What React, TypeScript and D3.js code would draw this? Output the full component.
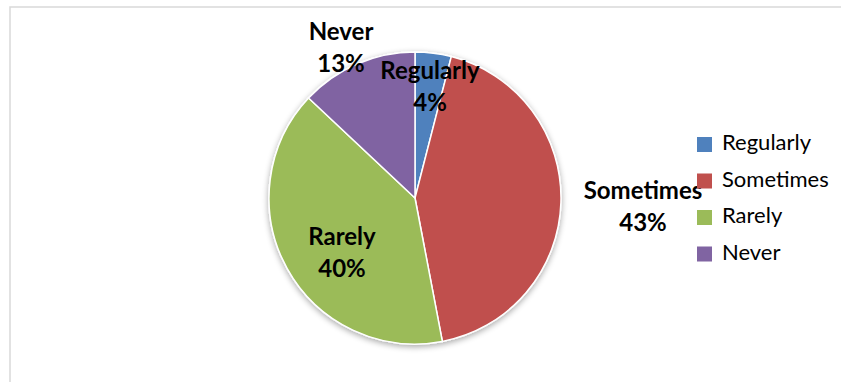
import React from "react";
import * as d3 from "d3";

const categories = ["Regularly", "Sometimes", "Rarely", "Never"];
const values = [4, 43, 40, 13];
const colors = ["#4F81BD", "#C0504D", "#9BBB59", "#8064A2"];
const labelPos: [number, number][] = [
  [430, 79],
  [643, 199],
  [342, 245],
  [341, 40],
];

const W = 841;
const H = 382;
const cx = 415;
const cy = 198;
const R = 146;
const FONT = "Lato, 'Open Sans', sans-serif";

export default function App() {
  const pie = d3.pie<number>().sort(null).value((d) => d)(values);
  const arc = d3.arc<d3.PieArcDatum<number>>().innerRadius(0).outerRadius(R);
  const total = d3.sum(values);
  return (
    <svg
      width={W}
      height={H}
      style={{ position: "absolute", left: 0, top: 0, background: "#fff" }}
    >
      <defs>
        <filter id="sh" x="-20%" y="-20%" width="140%" height="140%">
          <feGaussianBlur in="SourceAlpha" stdDeviation="3" />
          <feOffset dx="0" dy="2" result="b" />
          <feComponentTransfer>
            <feFuncA type="linear" slope="0.35" />
          </feComponentTransfer>
          <feMerge>
            <feMergeNode />
            <feMergeNode in="SourceGraphic" />
          </feMerge>
        </filter>
      </defs>
      <rect x={10} y={7} width={W} height={H} fill="#fff" stroke="#d9d9d9" strokeWidth={1.5} />
      <g transform={`translate(${cx},${cy})`} filter="url(#sh)">
        {pie.map((p, i) => (
          <path key={i} d={arc(p) || ""} fill={colors[i]} stroke="#fff" strokeWidth={1.5} />
        ))}
      </g>
      {categories.map((c, i) => (
        <text
          key={c}
          x={labelPos[i][0]}
          y={labelPos[i][1]}
          textAnchor="middle"
          fontFamily={FONT}
          fontWeight="bold"
          fontSize={24}
          fill="#000"
        >
          <tspan x={labelPos[i][0]}>{c}</tspan>
          <tspan x={labelPos[i][0]} dy={32}>
            {Math.round((values[i] / total) * 100)}%
          </tspan>
        </text>
      ))}
      {categories.map((c, i) => (
        <g key={c} transform={`translate(697,${137 + i * 36.5})`}>
          <rect width={15} height={15} fill={colors[i]} />
          <text x={25} y={13} fontFamily={FONT} fontSize={22} fill="#000">
            {c}
          </text>
        </g>
      ))}
    </svg>
  );
}
